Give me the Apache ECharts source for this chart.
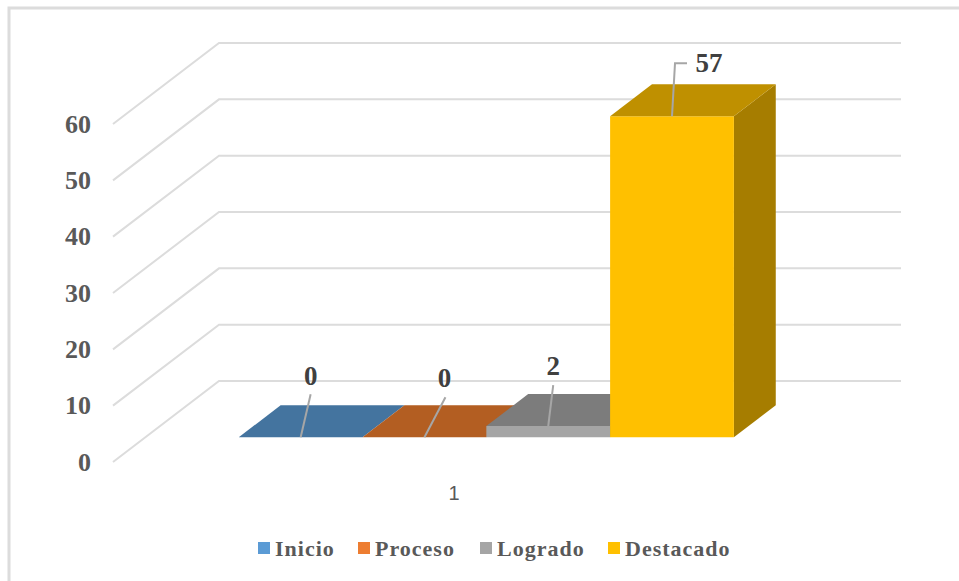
<!DOCTYPE html>
<html>
<head>
<meta charset="utf-8">
<style>
html,body{margin:0;padding:0;background:#fff}
#c{width:959px;height:581px}
svg text[style*="22px"]{letter-spacing:1px}
</style>
<script src="https://cdn.jsdelivr.net/npm/echarts@6/dist/echarts.min.js"></script>
</head>
<body>
<div id="c"></div>
<script>
const categories = ['1'];
const seriesNames = ['Inicio', 'Proceso', 'Logrado', 'Destacado'];
const inicio = [0];
const proceso = [0];
const logrado = [2];
const destacado = [57];
const yTicks = [0, 10, 20, 30, 40, 50, 60];

const frontColors = ['#5B9BD5', '#ED7D31', '#A5A5A5', '#FFC000'];
const topColors = ['#44749F', '#B35E22', '#7C7C7C', '#BF9000'];
const sideColors = ['#3A6489', '#9A4F1C', '#6B6B6B', '#A67D00'];
const GRID_COLOR = '#DCDCDC';
const LEADER_COLOR = '#A6A6A6';
const SERIF = '"Liberation Serif","Times New Roman",serif';

// projection of the chart's depth axis on screen
const DEPTH = [106, -81];
const BAR_FRONT = 0.305;  // bar front face, as a fraction of the depth
const BAR_DEPTH = 0.395;  // bar depth, as a fraction of the depth
const BAR_WIDTH = 0.1815; // bar width, as a fraction of the band

// left edge of each legend entry
const legendLefts = [258, 358, 480, 608];

// leader line vertices and label centre, relative to the top-front centre of each bar
const leaders = [
  { line: [[0, 0], [10, -43]], label: [10, -61] },
  { line: [[0, 0], [21, -40]], label: [20, -59] },
  { line: [[0, 0], [5, -41]], label: [5, -60] },
  { line: [[0, 0], [3, -53], [15, -53]], label: [37, -53] }
];

function barSeries(name, values, idx) {
  return {
    type: 'custom',
    name,
    coordinateSystem: 'cartesian2d',
    clip: false,
    silent: true,
    z: 3 + idx,
    itemStyle: { color: frontColors[idx] },
    encode: { x: 0, y: 1 },
    data: values.map((v, i) => [i, v]),
    renderItem(params, api) {
      const v = api.value(1);
      const centre = api.coord([api.value(0), 0]);
      const topPt = api.coord([api.value(0), v]);
      const band = api.size([1, 0])[0];
      const w = band * BAR_WIDTH;
      const fx = DEPTH[0] * BAR_FRONT, fy = DEPTH[1] * BAR_FRONT;
      const dx = DEPTH[0] * BAR_DEPTH, dy = DEPTH[1] * BAR_DEPTH;
      const x0 = centre[0] + fx + (idx - 2) * w;
      const x1 = x0 + w;
      const yb = centre[1] + fy;
      const yt = topPt[1] + fy;
      const kids = [];
      if (yb - yt > 0.5) {
        kids.push({ type: 'polygon', shape: { points: [[x1, yb], [x1 + dx, yb + dy], [x1 + dx, yt + dy], [x1, yt]] }, style: { fill: sideColors[idx] } });
        kids.push({ type: 'rect', shape: { x: x0, y: yt, width: w, height: yb - yt }, style: { fill: frontColors[idx] } });
      }
      kids.push({ type: 'polygon', shape: { points: [[x0, yt], [x0 + dx, yt + dy], [x1 + dx, yt + dy], [x1, yt]] }, style: { fill: topColors[idx] } });
      const mx = (x0 + x1) / 2;
      const lay = leaders[idx];
      kids.push({
        type: 'polyline', z2: 50,
        shape: { points: lay.line.map(p => [mx + p[0], yt + p[1]]) },
        style: { stroke: LEADER_COLOR, lineWidth: 2, fill: null }
      });
      kids.push({
        type: 'text', z2: 51,
        x: mx + lay.label[0], y: yt + lay.label[1],
        style: { text: String(v), fill: '#404040', font: 'bold 27px ' + SERIF, align: 'center', verticalAlign: 'middle' }
      });
      return { type: 'group', children: kids };
    }
  };
}

const wallSeries = {
  type: 'custom',
  name: 'walls',
  coordinateSystem: 'cartesian2d',
  clip: false,
  silent: true,
  z: 1,
  encode: { x: 0, y: 1 },
  data: yTicks.map(t => [0, t]),
  renderItem(params, api) {
    const y = api.coord([0, api.value(1)])[1];
    const left = params.coordSys.x;
    const right = left + params.coordSys.width;
    return {
      type: 'polyline',
      shape: { points: [[left, y], [left + DEPTH[0], y + DEPTH[1]], [right + DEPTH[0], y + DEPTH[1]]] },
      style: { stroke: GRID_COLOR, lineWidth: 2, fill: null }
    };
  }
};

const chart = echarts.init(document.getElementById('c'), null, { renderer: 'svg' });
chart.setOption({
  animation: false,
  backgroundColor: '#fff',
  graphic: [{
    type: 'rect', silent: true, z: 0,
    shape: { x: 9, y: 8, width: 960, height: 600 },
    style: { fill: 'none', stroke: GRID_COLOR, lineWidth: 3 }
  }],
  grid: { left: 113, right: 164, top: 124, bottom: 119 },
  legend: seriesNames.map((name, i) => ({
    data: [name],
    left: legendLefts[i], top: 537,
    padding: 0,
    icon: 'rect',
    itemWidth: 12, itemHeight: 12,
    itemGap: 0,
    textStyle: { fontFamily: SERIF, fontSize: 22, fontWeight: 'bold', color: '#595959' },
    selectedMode: false
  })),
  xAxis: {
    type: 'category',
    data: categories,
    axisLine: { show: false },
    axisTick: { show: false },
    axisLabel: { margin: 21, fontFamily: '"Liberation Sans",Arial,sans-serif', fontSize: 20, color: '#595959' }
  },
  yAxis: {
    type: 'value',
    min: 0, max: 60, interval: 10,
    axisLine: { show: false },
    axisTick: { show: false },
    splitLine: { show: false },
    axisLabel: { margin: 22, fontFamily: SERIF, fontSize: 26, fontWeight: 'bold', color: '#595959' }
  },
  series: [
    wallSeries,
    barSeries(seriesNames[0], inicio, 0),
    barSeries(seriesNames[1], proceso, 1),
    barSeries(seriesNames[2], logrado, 2),
    barSeries(seriesNames[3], destacado, 3)
  ]
});
</script>
</body>
</html>
